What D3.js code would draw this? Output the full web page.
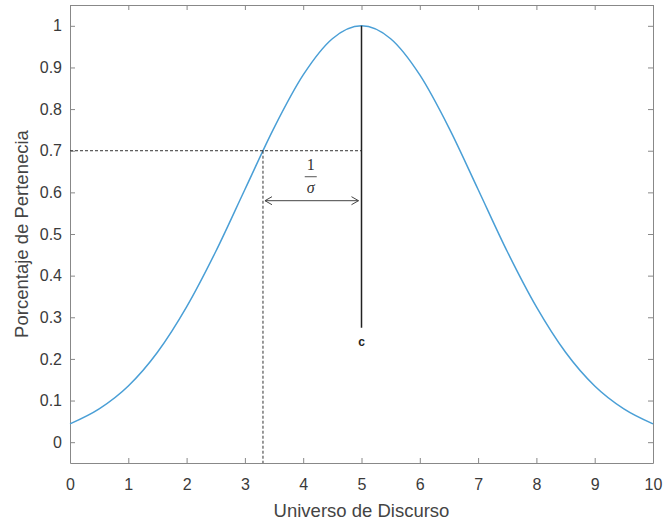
<!DOCTYPE html>
<html>
<head>
<meta charset="utf-8">
<script src="https://cdn.jsdelivr.net/npm/d3@7"></script>
<style>
body { margin:0; background:#fff; }
.axis text { font-family:"Liberation Sans", Arial, sans-serif; font-size:16px; fill:#3a3a3a; }
.axis path, .axis line { stroke:#888; }
.lbl { font-family:"Liberation Sans", Arial, sans-serif; font-size:18.5px; fill:#444; }
</style>
</head>
<body>
<script>

// values
var xs = [0,0.5,1,1.5,2,2.5,3,3.5,4,4.5,5,5.5,6,6.5,7,7.5,8,8.5,9,9.5,10];
var ys = [0.044,0.080,0.135,0.216,0.325,0.458,0.607,0.755,0.882,0.969,1.0,
          0.969,0.882,0.755,0.607,0.458,0.325,0.216,0.135,0.080,0.044];
var xTicks = [0,1,2,3,4,5,6,7,8,9,10];
var yTicks = [0,0.1,0.2,0.3,0.4,0.5,0.6,0.7,0.8,0.9,1];
var center = 5, level = 0.7, xLevel = 3.31, stemBottom = 0.275, arrowY = 0.58;

var m = {top:5, right:12, bottom:60, left:70},
    w = 665 - m.left - m.right,
    h = 523 - m.top - m.bottom;

var svg = d3.select("body").append("svg")
    .attr("width", 665).attr("height", 523)
    .append("g")
    .attr("transform", `translate(${m.left},${m.top})`);

var x = d3.scaleLinear().domain([0,10]).range([0,w]);
var y = d3.scaleLinear().domain([-0.05,1.05]).range([h,0]);

// axes box with inner ticks
svg.append("g").attr("class","axis")
    .attr("transform", `translate(0,${h})`)
    .call(d3.axisBottom(x).tickValues(xTicks).tickSizeInner(-5).tickSizeOuter(0).tickPadding(16));
svg.append("g").attr("class","axis")
    .call(d3.axisTop(x).tickValues(xTicks).tickSizeInner(-5).tickSizeOuter(0).tickFormat(""));
svg.append("g").attr("class","axis")
    .call(d3.axisLeft(y).tickValues(yTicks).tickSizeInner(-5).tickSizeOuter(0).tickPadding(8)
    .tickFormat(d3.format("~g")));
svg.append("g").attr("class","axis")
    .attr("transform", `translate(${w},0)`)
    .call(d3.axisRight(y).tickValues(yTicks).tickSizeInner(-5).tickSizeOuter(0).tickFormat(""));

// curve
svg.append("path")
    .datum(xs.map((d,i) => [d, ys[i]]))
    .attr("fill","none")
    .attr("stroke","#4a9fd6")
    .attr("stroke-width",1.5)
    .attr("d", d3.line().x(d => x(d[0])).y(d => y(d[1])).curve(d3.curveMonotoneX));

// dashed guides
svg.append("line")
    .attr("x1", x(0)).attr("x2", x(center))
    .attr("y1", y(level)).attr("y2", y(level))
    .attr("stroke","#333").attr("stroke-dasharray","3,2");
svg.append("line")
    .attr("x1", x(xLevel)).attr("x2", x(xLevel))
    .attr("y1", y(level)).attr("y2", y(-0.05))
    .attr("stroke","#333").attr("stroke-dasharray","3,2");

// center stem
svg.append("line")
    .attr("x1", x(center)).attr("x2", x(center))
    .attr("y1", y(1)).attr("y2", y(stemBottom))
    .attr("stroke","#222").attr("stroke-width",1.5);
svg.append("text")
    .attr("x", x(center)).attr("y", y(stemBottom) + 18)
    .attr("text-anchor","middle")
    .style("font-family","Liberation Sans, Arial, sans-serif")
    .style("font-size","12px").style("font-weight","bold").style("fill","#222")
    .text("c");

// double arrow
var ax1 = x(xLevel) + 2, ax2 = x(center) - 3, ay = y(arrowY);
svg.append("line").attr("x1", ax1).attr("x2", ax2).attr("y1", ay).attr("y2", ay)
    .attr("stroke","#444").attr("stroke-width",1);
svg.append("path")
    .attr("d", `M${ax1+7},${ay-4}L${ax1},${ay}L${ax1+7},${ay+4}M${ax2-7},${ay-4}L${ax2},${ay}L${ax2-7},${ay+4}`)
    .attr("fill","none").attr("stroke","#444").attr("stroke-width",1);

// fraction 1/sigma
var fx = (ax1 + ax2) / 2 - 1;
svg.append("text").attr("x", fx).attr("y", y(level) + 19)
    .attr("text-anchor","middle")
    .style("font-family","Liberation Serif, serif").style("font-size","16px").style("fill","#333")
    .text("1");
svg.append("line").attr("x1", fx - 6).attr("x2", fx + 6)
    .attr("y1", y(level) + 26).attr("y2", y(level) + 26)
    .attr("stroke","#555").attr("stroke-width",1);
svg.append("text").attr("x", fx).attr("y", y(level) + 42)
    .attr("text-anchor","middle")
    .style("font-family","Liberation Serif, serif").style("font-size","16px")
    .style("font-style","italic").style("fill","#333")
    .text("σ");

// axis labels
svg.append("text").attr("class","lbl")
    .attr("x", w/2).attr("y", h + 54)
    .attr("text-anchor","middle")
    .text("Universo de Discurso");
svg.append("text").attr("class","lbl")
    .attr("transform", `translate(-42,${h/2}) rotate(-90)`)
    .attr("text-anchor","middle")
    .text("Porcentaje de Pertenecia");

</script>
</body>
</html>
